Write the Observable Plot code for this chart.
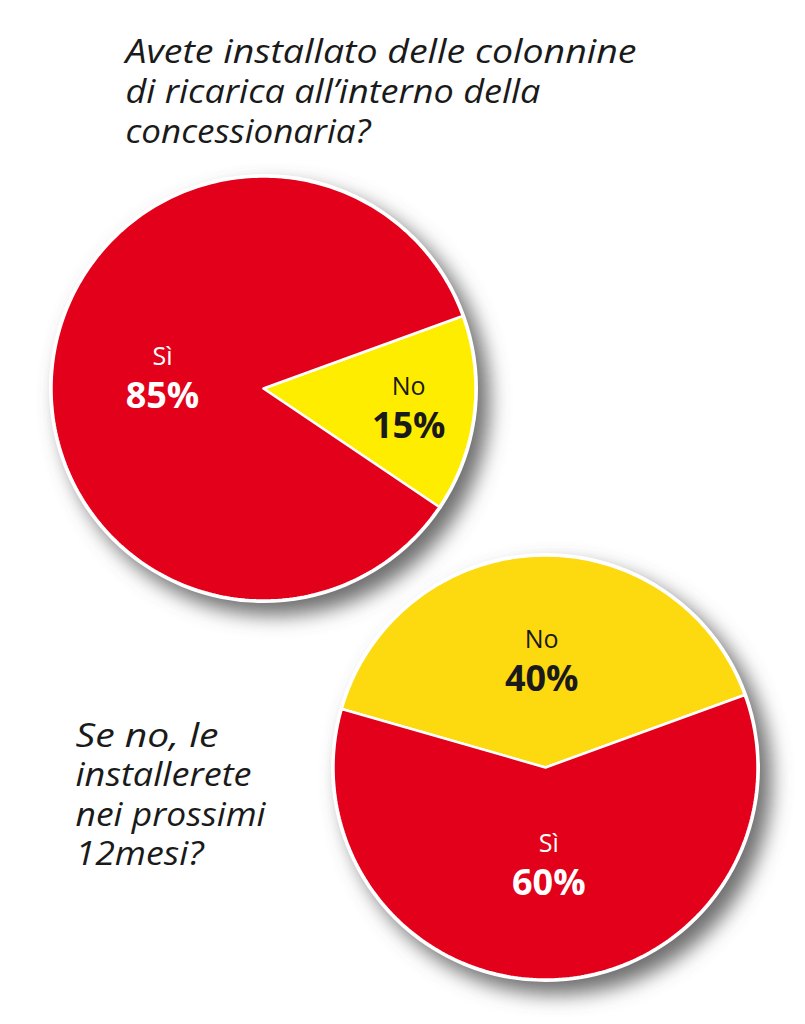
<!DOCTYPE html>
<html>
<head>
<meta charset="utf-8">
<script src="https://cdn.jsdelivr.net/npm/d3@7"></script>
<script src="https://cdn.jsdelivr.net/npm/@observablehq/plot@0.6"></script>
<style>
  html, body { margin: 0; padding: 0; background: #ffffff; }
  #chart { width: 805px; height: 1024px; }
</style>
</head>
<body>
<div id="chart"></div>
<script>
// ---- data ----
const question1 = ["Avete installato delle colonnine", "di ricarica all\u2019interno della", "concessionaria?"];
const question2 = ["Se no, le", "installerete", "nei prossimi", "12mesi?"];
const pie1Labels = ["No", "Sì"];
const pie1Values = [15, 85];
const pie2Labels = ["No", "Sì"];
const pie2Values = [40, 60];

// ---- styles / layout ----
const W = 805, H = 1024;
const RED = "#e2001a";
const YELLOW1 = "#ffed00";
const YELLOW2 = "#fdd90f";
const R = 212;
const pies = [
  {labels: pie1Labels, values: pie1Values, colors: [YELLOW1, RED], cx: 263, cy: 388, start: 70, labelR: [0.69, 0.48], textColor: ["#1a1a1a", "#ffffff"]},
  {labels: pie2Labels, values: pie2Values, colors: [YELLOW2, RED], cx: 545, cy: 767, start: -74, labelR: [0.51, 0.45], textColor: ["#1a1a1a", "#ffffff"]}
];
const title1Widths = [511, 415, 245];
const title2Widths = [143, 176, 190, 128];
const QFONT = 32;

// build wedge polygons and label anchors
const wedgePts = [];
const labelRows = [];
const circles = [];
pies.forEach((p, pi) => {
  const arcs = d3.pie().sort(null)
    .startAngle(p.start * Math.PI / 180)
    .endAngle(p.start * Math.PI / 180 + 2 * Math.PI)(p.values);
  circles.push({cx: p.cx, cy: p.cy});
  arcs.forEach((a, i) => {
    const id = pi + "-" + i;
    wedgePts.push({id, x: p.cx, y: p.cy, fill: p.colors[i]});
    const n = Math.max(2, Math.ceil((a.endAngle - a.startAngle) * 180 / Math.PI));
    for (let k = 0; k <= n; k++) {
      const t = a.startAngle + (a.endAngle - a.startAngle) * k / n;
      wedgePts.push({id, x: p.cx + R * Math.sin(t), y: p.cy - R * Math.cos(t), fill: p.colors[i]});
    }
    wedgePts.push({id, x: p.cx, y: p.cy, fill: p.colors[i]});
    const mid = (a.startAngle + a.endAngle) / 2;
    const lr = R * p.labelR[i];
    labelRows.push({
      x: p.cx + lr * Math.sin(mid),
      y: p.cy - lr * Math.cos(mid),
      name: p.labels[i],
      pct: p.values[i] + "%",
      color: p.textColor[i]
    });
  });
});

const qLines = [
  ...question1.map((s, i) => ({s, w: title1Widths[i], x: 125, y: 62 + i * 40})),
  ...question2.map((s, i) => ({s, w: title2Widths[i], x: 75, y: 746 + i * 39.5}))
];

const chart = Plot.plot({
  width: W,
  height: H,
  margin: 0,
  x: {domain: [0, W], range: [0, W], axis: null},
  y: {domain: [0, H], range: [0, H], axis: null},
  style: {background: "#ffffff"},
  marks: [
    // shadow
    Plot.dot(circles, {x: d => d.cx + 11, y: d => d.cy + 12, r: R + 3, fill: "#5e5e5e", fillOpacity: 0.9}),
    // white rim
    Plot.dot(circles, {x: "cx", y: "cy", r: R + 2.5, fill: "#ffffff"}),
    // wedges
    Plot.line(wedgePts, {x: "x", y: "y", z: "id", fill: "fill", stroke: "#ffffff", strokeWidth: 2.5, strokeLinejoin: "miter", curve: "linear"}),
    // labels
    Plot.text(labelRows, {x: "x", y: "y", text: "name", fill: "color", dy: -11, lineAnchor: "bottom", fontSize: 25, fontFamily: "Open Sans", fontWeight: 400}),
    Plot.text(labelRows, {x: "x", y: "y", text: "pct", fill: "color", dy: 32, lineAnchor: "bottom", fontSize: 36, fontFamily: "Open Sans", fontWeight: 700}),
    // questions
    Plot.text(qLines, {x: "x", y: "y", text: "s", textAnchor: "start", lineAnchor: "bottom", fontSize: QFONT, fontFamily: "Open Sans", fontStyle: "italic", fontWeight: 400, fill: "#1a1a1a"})
  ]
});

// post-process: blur the shadow, fit question widths
const ns = "http://www.w3.org/2000/svg";
const defs = document.createElementNS(ns, "defs");
const filt = document.createElementNS(ns, "filter");
filt.setAttribute("id", "pieShadow");
filt.setAttribute("x", "-20%"); filt.setAttribute("y", "-20%");
filt.setAttribute("width", "140%"); filt.setAttribute("height", "140%");
const blur = document.createElementNS(ns, "feGaussianBlur");
blur.setAttribute("stdDeviation", "10");
filt.appendChild(blur);
defs.appendChild(filt);
chart.insertBefore(defs, chart.firstChild);
const dotGroups = chart.querySelectorAll('g[aria-label="dot"]');
if (dotGroups.length) dotGroups[0].setAttribute("filter", "url(#pieShadow)");
const textGroups = chart.querySelectorAll('g[aria-label="text"]');
const qGroup = textGroups[textGroups.length - 1];
qGroup.querySelectorAll("text").forEach((el, i) => {
  el.setAttribute("textLength", qLines[i].w);
  el.setAttribute("lengthAdjust", "spacingAndGlyphs");
});
document.getElementById("chart").appendChild(chart);
</script>
</body>
</html>
